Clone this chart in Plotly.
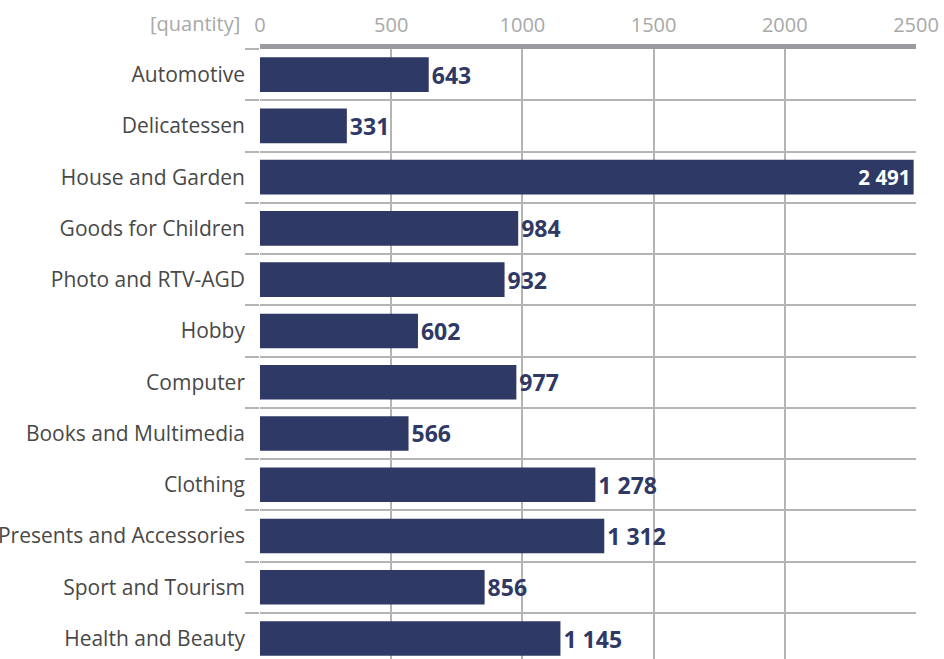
import plotly.graph_objects as go

categories = [
    "Automotive", "Delicatessen", "House and Garden", "Goods for Children",
    "Photo and RTV-AGD", "Hobby", "Computer", "Books and Multimedia",
    "Clothing", "Presents and Accessories", "Sport and Tourism", "Health and Beauty",
]
quantities = [643, 331, 2491, 984, 932, 602, 977, 566, 1278, 1312, 856, 1145]
x_ticks = [0, 500, 1000, 1500, 2000, 2500]

NAVY = "#2f3966"
GRID = "#b4b4b4"
FONT = "Open Sans"

positions = list(range(len(categories)))
labels = [f"{v:,}".replace(",", " ") for v in quantities]
text_pos = ["inside" if v > 2200 else "outside" for v in quantities]

fig = go.Figure(go.Bar(
    x=quantities,
    y=positions,
    orientation="h",
    width=0.675,
    marker=dict(color=NAVY, line=dict(width=0)),
    text=labels,
    textposition=text_pos,
    insidetextanchor="end",
    insidetextfont=dict(family=FONT, size=23, color="white", weight="bold"),
    outsidetextfont=dict(family=FONT, size=23, color=NAVY, weight="bold"),
    textangle=0,
    cliponaxis=False,
))

fig.update_layout(
    width=944, height=659,
    margin=dict(l=260, r=28, t=49, b=0, autoexpand=False),
    plot_bgcolor="white", paper_bgcolor="white",
    showlegend=False,
    font=dict(family=FONT),
    xaxis=dict(
        side="top",
        automargin=False,
        range=[0, 2500],
        tickvals=x_ticks,
        ticks="",
        ticklabelstandoff=4,
        tickfont=dict(size=20, color="#a8a8a8"),
        showgrid=True, gridcolor=GRID, gridwidth=1.5,
        zeroline=False,
        showline=True, linecolor="#9b9b9f", linewidth=5,
    ),
    yaxis=dict(
        automargin=False,
        range=[11.4, -0.5],
        tickvals=positions,
        ticktext=categories,
        ticks="",
        ticklabelstandoff=14,
        tickfont=dict(size=21, color="#484848"),
        showgrid=False,
        zeroline=False,
        showline=False,
        minor=dict(
            tickmode="linear", tick0=-0.5, dtick=1,
            ticks="outside", ticklen=14, tickcolor=GRID, tickwidth=1.5,
            showgrid=True, gridcolor=GRID, gridwidth=1.5,
        ),
    ),
    annotations=[dict(
        text="[quantity]", xref="paper", yref="paper",
        x=0, y=1, xanchor="right", yanchor="bottom",
        xshift=-18, yshift=10, showarrow=False,
        font=dict(size=20, color="#a8a8a8"),
    )],
)

fig.write_html("out.html")
